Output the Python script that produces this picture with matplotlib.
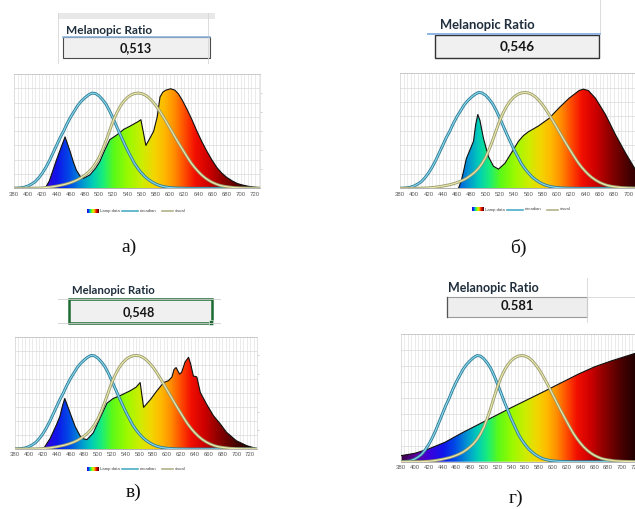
import numpy as np
import matplotlib
matplotlib.use("Agg")
import matplotlib.pyplot as plt
from matplotlib.colors import LinearSegmentedColormap, Normalize
from matplotlib.patches import Polygon, Rectangle
from matplotlib.lines import Line2D

W, H = 635, 509

# ---------------- data ----------------
ratio_labels = ["0,513", "0,546", "0,548", "0.581"]
captions = ["а)", "б)", "в)", "г)"]

# reference curves (shared by all panels)
circ_wl = [380, 385, 390, 395, 400, 405, 410, 415, 420, 425, 430, 435, 440, 445, 450, 455,
           460, 465, 470, 475, 480, 485, 490, 495, 500, 505, 510, 515, 520, 525, 530, 535,
           540, 545, 550, 555, 560, 565, 570, 575, 580, 585, 590, 595, 600, 605, 610, 620,
           630, 730]
circadian = [0.0, 0.002, 0.005, 0.012, 0.025, 0.045, 0.07, 0.11, 0.16, 0.22, 0.29, 0.37,
             0.45, 0.53, 0.60, 0.68, 0.75, 0.81, 0.87, 0.915, 0.95, 0.98, 1.0, 0.995, 0.97,
             0.93, 0.88, 0.81, 0.73, 0.645, 0.56, 0.48, 0.40, 0.33, 0.26, 0.205, 0.16, 0.12,
             0.09, 0.065, 0.045, 0.03, 0.02, 0.013, 0.008, 0.005, 0.003, 0.001, 0.0, 0.0]
vis_wl = [380, 400, 410, 420, 430, 440, 450, 455, 460, 465, 470, 475, 480, 485, 490, 495,
          500, 505, 510, 515, 520, 525, 530, 535, 540, 545, 550, 555, 560, 565, 570, 575,
          580, 585, 590, 595, 600, 605, 610, 615, 620, 625, 630, 635, 640, 645, 650, 655,
          660, 665, 670, 675, 680, 690, 700, 710, 720, 730]
visual = [0.0, 0.0004, 0.0012, 0.004, 0.0116, 0.023, 0.038, 0.048, 0.06, 0.074, 0.091,
          0.113, 0.139, 0.169, 0.208, 0.259, 0.323, 0.407, 0.503, 0.608, 0.71, 0.793, 0.862,
          0.915, 0.954, 0.98, 0.995, 1.0, 0.995, 0.979, 0.952, 0.915, 0.87, 0.816, 0.757,
          0.695, 0.631, 0.567, 0.503, 0.441, 0.381, 0.321, 0.265, 0.217, 0.175, 0.138, 0.107,
          0.082, 0.061, 0.045, 0.032, 0.023, 0.017, 0.008, 0.004, 0.002, 0.001, 0.0005]

# lamp spectra
lamp_a_wl = [424, 430, 435, 440, 445, 452, 459, 464, 468, 473, 478, 487, 495, 501, 508, 515,
             525, 535, 543, 555, 559, 566, 572, 577, 582, 586, 590, 594, 601, 607, 612, 617,
             624, 631, 638, 645, 652, 659, 666, 673, 680, 688, 695, 702, 710, 716, 727]
lamp_a = [0.0, 0.08, 0.19, 0.30, 0.40, 0.54, 0.39, 0.27, 0.19, 0.13, 0.105, 0.14, 0.21, 0.28,
          0.40, 0.51, 0.56, 0.62, 0.65, 0.70, 0.72, 0.45, 0.53, 0.60, 0.75, 0.96, 1.01, 1.03,
          1.045, 1.03, 0.99, 0.93, 0.83, 0.72, 0.60, 0.49, 0.39, 0.30, 0.22, 0.16, 0.115,
          0.077, 0.05, 0.035, 0.022, 0.015, 0.005]

lamp_b_wl = [462, 466, 469, 473, 478, 483, 486, 489, 492, 497, 504, 511, 518, 527, 537, 546,
             553, 560, 574, 589, 603, 617, 631, 637, 644, 654, 668, 682, 696, 712]
lamp_b = [0.0, 0.08, 0.175, 0.31, 0.40, 0.49, 0.66, 0.77, 0.71, 0.52, 0.33, 0.23, 0.20, 0.26,
          0.38, 0.49, 0.55, 0.59, 0.65, 0.73, 0.84, 0.94, 1.02, 1.035, 1.02, 0.94, 0.77, 0.56,
          0.37, 0.17]

lamp_c_wl = [421, 431, 440, 445, 449, 452, 456, 460, 467, 476, 484, 493, 503, 513, 522, 532,
             546, 555, 561, 566, 576, 585, 595, 602, 607, 610, 613, 618, 621, 626, 631, 634,
             638, 643, 648, 657, 667, 677, 686, 700, 715, 727]
lamp_c = [0.0, 0.115, 0.26, 0.35, 0.47, 0.54, 0.46, 0.38, 0.24, 0.115, 0.10, 0.17, 0.33, 0.49,
          0.54, 0.57, 0.62, 0.66, 0.71, 0.445, 0.53, 0.62, 0.71, 0.73, 0.77, 0.85, 0.87, 0.80,
          0.82, 0.93, 0.98, 0.91, 0.78, 0.77, 0.605, 0.48, 0.356, 0.267, 0.178, 0.089, 0.036,
          0.01]

lamp_d_wl = [380, 400, 420, 444, 468, 492, 516, 540, 565, 589, 613, 637, 661, 685, 719, 726]
lamp_d = [0.057, 0.079, 0.12, 0.184, 0.27, 0.35, 0.43, 0.51, 0.59, 0.667, 0.746, 0.825,
          0.895, 0.95, 1.02, 1.03]

tick_wl = list(range(380, 721, 20))
tick_wl_b = list(range(380, 701, 20))
legend_labels = ["Lamp data", "circadian", "visual"]

# ---------------- style ----------------
spec_stops = [
    (380, (0.22, 0.0, 0.28)), (400, (0.38, 0.0, 0.62)), (420, (0.24, 0.0, 0.86)),
    (440, (0.06, 0.08, 0.92)), (458, (0.0, 0.30, 0.90)), (475, (0.0, 0.58, 0.82)),
    (490, (0.0, 0.80, 0.72)), (505, (0.10, 0.93, 0.48)), (520, (0.35, 0.98, 0.10)),
    (540, (0.60, 0.98, 0.0)), (560, (0.80, 0.93, 0.0)), (577, (0.95, 0.84, 0.0)),
    (592, (1.0, 0.72, 0.0)), (606, (1.0, 0.55, 0.0)), (620, (1.0, 0.30, 0.0)),
    (635, (0.95, 0.06, 0.0)), (655, (0.80, 0.0, 0.0)), (675, (0.55, 0.0, 0.0)),
    (700, (0.28, 0.0, 0.0)), (730, (0.05, 0.0, 0.0)),
]
cmap = LinearSegmentedColormap.from_list(
    "spec", [((w - 380) / 350.0, c) for w, c in spec_stops])
norm = Normalize(380, 730)

fig = plt.figure(figsize=(W / 100, H / 100), dpi=100)
fig.patch.set_facecolor("white")


def fx(x):
    return x / W


def fy(y):
    return 1 - y / H


def add_ax(left, top, right, bottom):
    return fig.add_axes([fx(left), fy(bottom), (right - left) / W, (bottom - top) / H])


def panel(box, xlim, wl, val, ticks, right_ticks=True):
    ax = add_ax(*box)
    ax.set_facecolor("white")
    # grid
    for yv in np.arange(0.15, 1.21, 0.15):
        ax.axhline(yv, color="#d9d9d9", lw=0.5, zorder=0)
    ax.set_xticks(ticks)
    ax.set_xticks(np.arange(380, 731, 5), minor=True)
    ax.grid(which="both", axis="x", color="#dcdcdc", lw=0.4, zorder=0)
    ax.set_axisbelow(True)
    # gradient fill
    verts = np.column_stack([np.r_[wl[0], wl, wl[-1]], np.r_[0, val, 0]])
    clip = Polygon(verts, closed=True, facecolor="none", edgecolor="none",
                   transform=ax.transData)
    ax.add_patch(clip)
    grad = np.linspace(380, 730, 700)[None, :]
    im = ax.imshow(grad, extent=(380, 730, 0, 1.25), aspect="auto", cmap=cmap,
                   norm=norm, origin="lower", zorder=2, interpolation="bilinear")
    im.set_clip_path(clip)
    ax.plot(wl, val, color="#111111", lw=0.8, zorder=3)
    # reference curves
    ax.plot(circ_wl, circadian, color="#2b7a92", lw=2.1, zorder=4, solid_capstyle="round")
    ax.plot(circ_wl, circadian, color="#86d3ea", lw=0.9, zorder=5)
    ax.plot(vis_wl, visual, color="#959a6e", lw=2.1, zorder=6, solid_capstyle="round")
    ax.plot(vis_wl, visual, color="#ebe6aa", lw=0.9, zorder=7)
    ax.set_xlim(*xlim)
    ax.set_ylim(0, 1.2)
    ax.tick_params(axis="x", which="both", length=0, pad=2.5, labelsize=4.3,
                   labelcolor="#595959")
    for lab in ax.get_xticklabels():
        lab.set_fontfamily("Liberation Sans")
    ax.yaxis.tick_right()
    if right_ticks:
        ax.set_yticks([0.2, 0.4, 0.6, 0.8, 1.0])
    else:
        ax.set_yticks([])
    ax.tick_params(axis="y", length=1.5, width=0.5, color="#bfbfbf", labelright=False)
    ax.spines["bottom"].set_color("#a6a6a6")
    ax.spines["bottom"].set_linewidth(0.6)
    ax.spines["left"].set_color("#d9d9d9")
    ax.spines["left"].set_linewidth(0.5)
    ax.spines["right"].set_color("#d9d9d9")
    ax.spines["right"].set_linewidth(0.5)
    ax.spines["top"].set_color("#bdbdbd")
    ax.spines["top"].set_linestyle(":")
    ax.spines["top"].set_linewidth(0.6)
    return ax


def legend(x0, y):
    sw = fig.add_axes([fx(x0), fy(y + 2), 12 / W, 4 / H])
    sw.imshow(np.linspace(420, 700, 60)[None, :], aspect="auto", cmap=cmap, norm=norm)
    sw.set_axis_off()
    kw = dict(fontsize=3.1, va="center", ha="left", color="#404040",
              family="Liberation Sans")
    fig.text(fx(x0 + 13), fy(y), legend_labels[0], **kw)
    fig.add_artist(Line2D([fx(x0 + 35), fx(x0 + 51)], [fy(y), fy(y)], color="#4bacc6",
                          lw=1.2, transform=fig.transFigure))
    fig.text(fx(x0 + 53), fy(y), legend_labels[1], **kw)
    fig.add_artist(Line2D([fx(x0 + 75), fx(x0 + 86)], [fy(y), fy(y)], color="#b3b38a",
                          lw=1.2, transform=fig.transFigure))
    fig.text(fx(x0 + 88), fy(y), legend_labels[2], **kw)


def rect(x0, y0, x1, y1, **kw):
    r = Rectangle((fx(x0), fy(y1)), (x1 - x0) / W, (y1 - y0) / H,
                  transform=fig.transFigure, **kw)
    fig.add_artist(r)
    return r


def hline(x0, x1, y, **kw):
    fig.add_artist(Line2D([fx(x0), fx(x1)], [fy(y), fy(y)], transform=fig.transFigure, **kw))


def vline(x, y0, y1, **kw):
    fig.add_artist(Line2D([fx(x), fx(x)], [fy(y0), fy(y1)], transform=fig.transFigure, **kw))


hdr_kw = dict(family="Lato", weight="bold", color="#1f2e3c", ha="left", va="center")
val_kw = dict(family="Lato", weight="bold", color="#151515", ha="center", va="center")

# ---- panel a header ----
rect(58, 13, 215, 19, facecolor="#e8e8e8", edgecolor="none")
vline(58, 13, 63, color="#d6d6d6", lw=0.6)
vline(208, 13, 63, color="#d6d6d6", lw=0.6)
fig.text(fx(66.5), fy(30), "Melanopic Ratio", fontsize=8.6, **hdr_kw)
rect(63, 37.3, 209.5, 57.5, facecolor="#f0f0f0", edgecolor="#4a4a4a", lw=0.8)
hline(63, 210, 36.8, color="#8fb3dc", lw=1.2)
fig.text(fx(136), fy(48.5), ratio_labels[0], fontsize=9.1, **val_kw)

# ---- panel б header ----
vline(599.5, 0, 33, color="#d6d6d6", lw=0.6)
fig.text(fx(439.5), fy(25.5), "Melanopic Ratio", fontsize=9.4, **hdr_kw)
rect(435, 35.3, 599.3, 58.3, facecolor="#f0f0f0", edgecolor="#333333", lw=1.0)
hline(428, 600, 33.5, color="#8eb4e3", lw=1.4)
fig.text(fx(517), fy(46.5), ratio_labels[1], fontsize=9.8, **val_kw)

# ---- panel в header ----
hline(58, 220, 298.5, color="#d0d0d0", lw=0.6)
hline(58, 220, 322.7, color="#d0d0d0", lw=0.6)
fig.text(fx(71.5), fy(291), "Melanopic Ratio", fontsize=8.2, **hdr_kw)
rect(68.5, 298.5, 211.5, 322.5, facecolor="#f0f0f0", edgecolor="#1e6b32", lw=1.8)
rect(208.5, 320, 213, 324.5, facecolor="#1e6b32", edgecolor="white", lw=0.4)
fig.text(fx(138.5), fy(312), ratio_labels[2], fontsize=9.1, **val_kw)

# ---- panel г header ----
vline(587, 278, 322, color="#d6d6d6", lw=0.6)
hline(587, 635, 296.7, color="#d6d6d6", lw=0.6)
fig.text(fx(448.5), fy(288.5), "Melanopic Ratio", fontsize=9.0, **hdr_kw)
rect(446.7, 296.7, 586.7, 316.7, facecolor="#eeeeee", edgecolor="#9a9a9a", lw=0.8)
vline(446.9, 296.7, 316.7, color="#555555", lw=0.9)
fig.text(fx(517), fy(306.5), ratio_labels[3], fontsize=9.4, **val_kw)

# ---- charts ----
panel((14, 74, 260, 188.3), (380, 727), lamp_a_wl, lamp_a, tick_wl)
panel((400, 73.3, 649.7, 188.3), (380, 730), lamp_b_wl, lamp_b, tick_wl_b, right_ticks=False)
panel((15, 336.7, 257, 449), (380, 730), lamp_c_wl, lamp_c, tick_wl)
panel((401, 334.3, 642.5, 461.7), (380, 730), lamp_d_wl, lamp_d, tick_wl, right_ticks=False)

legend(87, 210.7)
legend(472, 209.5)
legend(87, 469.3)

# ---- captions ----
cap_kw = dict(family="Liberation Serif", fontsize=14, color="#111111", ha="center",
              va="center")
fig.text(fx(129), fy(247.5), captions[0], **cap_kw)
fig.text(fx(518), fy(247.5), captions[1], **cap_kw)
fig.text(fx(134), fy(492), captions[2], **cap_kw)
fig.text(fx(516), fy(498), captions[3], **cap_kw)

fig.savefig("out.png", dpi=100)
